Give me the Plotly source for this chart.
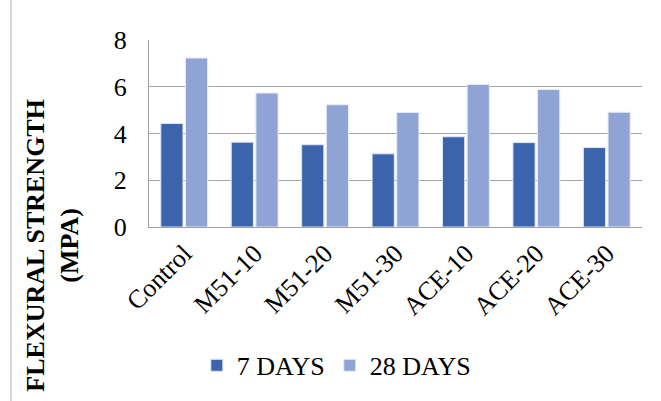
import plotly.graph_objects as go

# Mix designs and flexural strength results (MPa)
categories = ["Control", "M51-10", "M51-20", "M51-30", "ACE-10", "ACE-20", "ACE-30"]
days_7 = [4.43, 3.63, 3.52, 3.13, 3.86, 3.61, 3.40]
days_28 = [7.23, 5.73, 5.23, 4.90, 6.10, 5.88, 4.91]
y_ticks = [0, 2, 4, 6, 8]

FONT = "Liberation Serif"

fig = go.Figure()
fig.add_trace(go.Bar(
    x=categories, y=days_7, name="7 DAYS",
    marker=dict(color="#3C64AC", line=dict(color="#dfe6f3", width=1)),
))
fig.add_trace(go.Bar(
    x=categories, y=days_28, name="28 DAYS",
    marker=dict(color="#8FA4D5", line=dict(color="#e6ebf6", width=1)),
))

fig.update_layout(
    width=661, height=401,
    margin=dict(l=149, r=19, t=40, b=171),
    paper_bgcolor="white", plot_bgcolor="white",
    barmode="group", bargap=0.3, bargroupgap=0.1,
    font=dict(family=FONT, color="#000000", size=26),
    showlegend=True,
    legend=dict(
        orientation="h", x=0.38, xanchor="center", y=-0.74, yanchor="middle",
        font=dict(family=FONT, size=26, color="#000000"),
        itemwidth=30, traceorder="normal",
    ),
)

fig.update_xaxes(
    tickangle=-45, showline=True, linecolor="#a0a0a0", linewidth=1,
    ticks="", tickfont=dict(family=FONT, size=26), showgrid=False,
)
fig.update_yaxes(
    range=[0, 8], tickvals=y_ticks, ticktext=[str(v) for v in y_ticks],
    showgrid=True, gridcolor="#a6a6a6", gridwidth=1,
    showline=True, linecolor="#a0a0a0", linewidth=1,
    ticks="", ticklabelstandoff=16, tickfont=dict(family=FONT, size=26),
    zeroline=False,
)

# Axis title
fig.add_annotation(
    text="<b>FLEXURAL STRENGTH<br>(MPA)</b>", textangle=-90,
    xref="paper", yref="paper", x=-0.195, y=-0.095,
    xanchor="center", yanchor="middle", showarrow=False,
    font=dict(family=FONT, size=26, color="#000000"),
)

# Chart frame edge on the left
fig.add_shape(
    type="line", xref="paper", yref="paper",
    x0=-0.28, x1=-0.28, y0=-1.0, y1=1.25,
    line=dict(color="#b0b0b0", width=1),
)

fig.write_html("out.html")
